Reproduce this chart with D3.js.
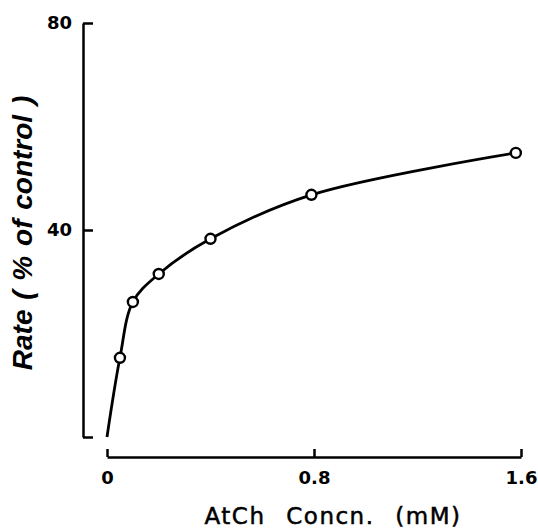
<!DOCTYPE html>
<html>
<head>
<meta charset="utf-8">
<script src="https://cdn.jsdelivr.net/npm/d3@7"></script>
<style>
  body { margin: 0; background: #fff; }
  svg { display: block; }
</style>
</head>
<body>
<svg width="538" height="529"></svg>
<script>
// values
const concn = [0.05, 0.1, 0.2, 0.4, 0.79, 1.58];   // AtCh mM
const rate = [15.3, 26.1, 31.5, 38.3, 46.8, 54.9];  // % of control
const xTicks = [0, 0.8, 1.6];
const yTicks = [0, 40, 80];
const yTickLabels = ["", "40", "80"];

const svg = d3.select("svg");

const x = d3.scaleLinear().domain([0, 1.6]).range([107, 521]);
const y = d3.scaleLinear().domain([0, 80]).range([437, 23]);

// y axis (detached from x axis)
svg.append("g")
    .attr("transform", "translate(83,0)")
    .call(d3.axisLeft(y).tickValues(yTicks).tickSizeInner(-10).tickSizeOuter(0)
        .tickPadding(11).tickFormat((d, i) => yTickLabels[i]));

// x axis
svg.append("g")
    .attr("transform", "translate(0,457)")
    .call(d3.axisBottom(x).tickValues(xTicks).tickSizeInner(-8).tickSizeOuter(0)
        .tickPadding(14).tickFormat(d => d === 0 ? "0" : d3.format(".1f")(d)));

svg.selectAll(".domain, .tick line")
    .attr("stroke", "#000")
    .attr("stroke-width", 2.5);

svg.selectAll(".tick text")
    .attr("fill", "#000")
    .style("font-family", "DejaVu Sans")
    .style("font-weight", "bold")
    .style("font-size", "18px");

// curve, starting at the origin
const pts = [[0, 0]].concat(concn.map((c, i) => [c, rate[i]]));
const line = d3.line()
    .x(d => x(d[0]))
    .y(d => y(d[1]))
    .curve(d3.curveCatmullRom.alpha(0.5));

svg.append("path")
    .datum(pts)
    .attr("d", line)
    .attr("fill", "none")
    .attr("stroke", "#000")
    .attr("stroke-width", 2.8);

svg.selectAll(".pt")
    .data(concn)
    .enter()
    .append("circle")
    .attr("class", "pt")
    .attr("cx", d => x(d))
    .attr("cy", (d, i) => y(rate[i]))
    .attr("r", 5)
    .attr("fill", "#fff")
    .attr("stroke", "#000")
    .attr("stroke-width", 2.4);

// axis titles
svg.append("text")
    .attr("x", 333)
    .attr("y", 524)
    .attr("text-anchor", "middle")
    .attr("stroke", "#000")
    .attr("stroke-width", 0.5)
    .style("font-family", "DejaVu Sans")
    .style("font-size", "23px")
    .style("letter-spacing", "1.5px")
    .style("word-spacing", "12px")
    .text("AtCh Concn. (mM)");

svg.append("text")
    .attr("transform", "translate(32,233) rotate(-90)")
    .attr("text-anchor", "middle")
    .style("font-family", "Liberation Sans")
    .style("font-weight", "bold")
    .style("font-style", "italic")
    .style("font-size", "28px")
    .style("word-spacing", "2px")
    .text("Rate ( % of control )");
</script>
</body>
</html>
